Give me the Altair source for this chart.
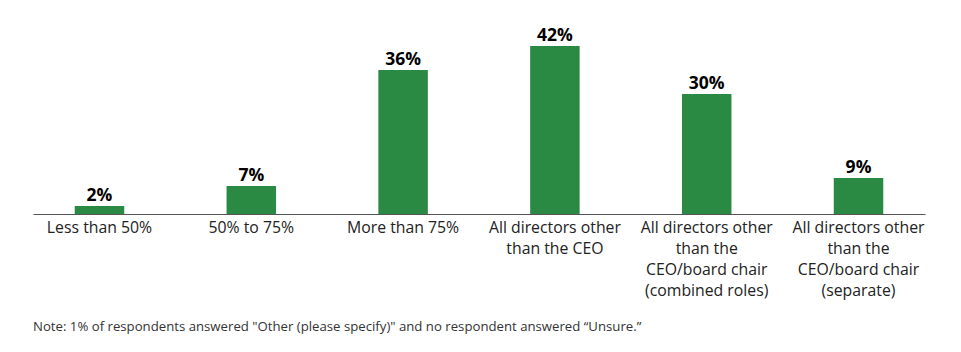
import altair as alt
import pandas as pd

categories = [
    "Less than 50%",
    "50% to 75%",
    "More than 75%",
    "All directors other|than the CEO",
    "All directors other|than the|CEO/board chair|(combined roles)",
    "All directors other|than the|CEO/board chair|(separate)",
]
values = [2, 7, 36, 42, 30, 9]
labels = ["2%", "7%", "36%", "42%", "30%", "9%"]
note = "Note: 1% of respondents answered \"Other (please specify)\" and no respondent answered \u201cUnsure.\u201d"

df = pd.DataFrame({"cat": categories, "val": values, "lab": labels})

FONT = "Open Sans"
GREEN = "#2a8a43"

x = alt.X(
    "cat:N",
    sort=categories,
    title=None,
    scale=alt.Scale(paddingInner=0.674, paddingOuter=0.275),
    axis=alt.Axis(
        labelExpr="split(datum.label, '|')",
        labelAngle=0,
        labelFont=FONT,
        labelFontSize=15.8,
        labelColor="#222222",
        labelLineHeight=21,
        labelPadding=6,
        labelBaseline="top",
        ticks=False,
        domainColor="#555555",
        domainWidth=1,
        labelLimit=300,
    ),
)
y = alt.Y(
    "val:Q",
    scale=alt.Scale(domain=[0, 51], nice=False),
    axis=None,
)

bars = alt.Chart(df).mark_bar(color=GREEN).encode(x=x, y=y)
text = alt.Chart(df).mark_text(
    font=FONT, fontSize=17.5, fontWeight="bold", color="#000000",
    baseline="bottom", dy=-1,
).encode(x=alt.X("cat:N", sort=categories), y="val:Q", text="lab:N")

chart = (
    alt.layer(bars, text)
    .properties(
        width=892,
        height=204,
        padding={"left": 33, "top": 10, "right": 36, "bottom": 138},
        autosize=alt.AutoSizeParams(type="none"),
        view=alt.ViewBackground(strokeOpacity=0, strokeWidth=0),
        title=alt.TitleParams(
            note, orient="bottom", anchor="start", font=FONT, fontSize=13.2,
            fontWeight="normal", color="#333333", offset=23,
        ),
    )
    .configure_view(strokeWidth=0, strokeOpacity=0)
    .configure(background="white")
)

chart.save("out.html", embed_options={"renderer": "svg", "actions": False})
